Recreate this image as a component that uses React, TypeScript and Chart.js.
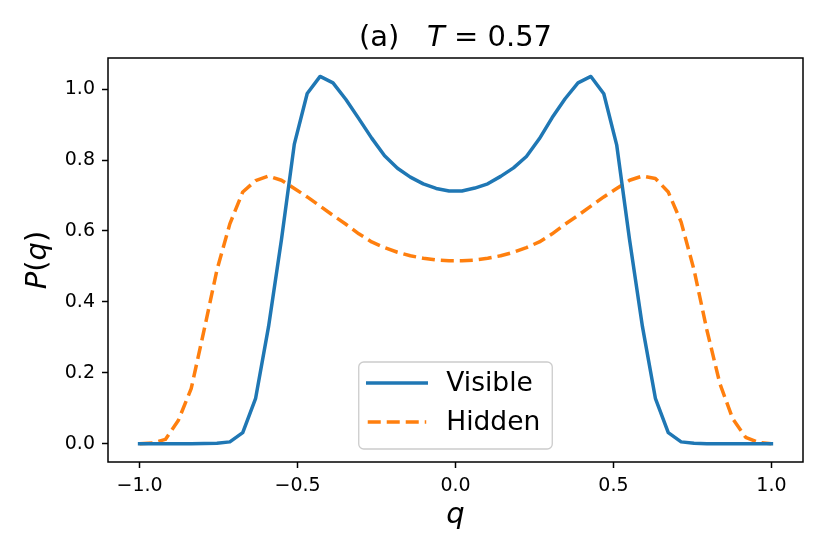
import { Chart, registerables } from "chart.js";
import { useEffect, useRef } from "react";

Chart.register(...registerables);

// q grid (50 points from -1 to 1)
const qValues = [
  -1.0, -0.9592, -0.9184, -0.8776, -0.8367, -0.7959, -0.7551, -0.7143, -0.6735, -0.6327,
  -0.5918, -0.551, -0.5102, -0.4694, -0.4286, -0.3878, -0.3469, -0.3061, -0.2653, -0.2245,
  -0.1837, -0.1429, -0.102, -0.0612, -0.0204, 0.0204, 0.0612, 0.102, 0.1429, 0.1837,
  0.2245, 0.2653, 0.3061, 0.3469, 0.3878, 0.4286, 0.4694, 0.5102, 0.551, 0.5918,
  0.6327, 0.6735, 0.7143, 0.7551, 0.7959, 0.8367, 0.8776, 0.9184, 0.9592, 1.0,
];

const visible = [
  0, 0, 0, 0, 0, 0.0005, 0.001, 0.005, 0.031, 0.128,
  0.33, 0.575, 0.845, 0.988, 1.036, 1.018, 0.971, 0.917, 0.862, 0.812,
  0.777, 0.752, 0.733, 0.72, 0.713, 0.713, 0.721, 0.733, 0.754, 0.778,
  0.81, 0.86, 0.92, 0.973, 1.018, 1.036, 0.987, 0.843, 0.575, 0.33,
  0.128, 0.031, 0.005, 0.001, 0, 0, 0, 0, 0, 0,
];

const hidden = [
  0, 0.002, 0.012, 0.065, 0.155, 0.32, 0.49, 0.62, 0.71, 0.742,
  0.755, 0.743, 0.72, 0.696, 0.67, 0.644, 0.619, 0.592, 0.569, 0.553,
  0.54, 0.53, 0.523, 0.518, 0.516, 0.516, 0.518, 0.523, 0.53, 0.54,
  0.553, 0.569, 0.592, 0.619, 0.644, 0.67, 0.696, 0.72, 0.743, 0.755,
  0.748, 0.71, 0.625, 0.49, 0.32, 0.17, 0.07, 0.018, 0.003, 0,
];

const seriesNames = ["Visible", "Hidden"];
const xTicks = [-1.0, -0.5, 0.0, 0.5, 1.0];
const yTicks = [0.0, 0.2, 0.4, 0.6, 0.8, 1.0];

const BLUE = "#1f77b4";
const ORANGE = "#ff7f0e";
const FONT = "'DejaVu Sans', sans-serif";
const DASH = [13, 6];
const LW = 3.5;

type Run = { text: string; italic?: boolean };

const runWidth = (ctx: CanvasRenderingContext2D, runs: Run[], size: number) => {
  let w = 0;
  for (const r of runs) {
    ctx.font = `${r.italic ? "italic " : ""}${size}px ${FONT}`;
    w += ctx.measureText(r.text).width;
  }
  return w;
};

const drawRuns = (ctx: CanvasRenderingContext2D, runs: Run[], size: number, cx: number, y: number) => {
  let x = cx - runWidth(ctx, runs, size) / 2;
  ctx.textAlign = "left";
  ctx.textBaseline = "alphabetic";
  for (const r of runs) {
    ctx.font = `${r.italic ? "italic " : ""}${size}px ${FONT}`;
    ctx.fillText(r.text, x, y);
    x += ctx.measureText(r.text).width;
  }
};

const fmt = (v: number) => (v < 0 ? "\u2212" + Math.abs(v).toFixed(1) : v.toFixed(1));

const decorations = {
  id: "decorations",
  afterDraw(chart: any) {
    const { ctx, chartArea: a } = chart;
    const cx = (a.left + a.right) / 2;
    const cy = (a.top + a.bottom) / 2;
    ctx.save();
    ctx.fillStyle = "#000";

    // axes frame
    ctx.strokeStyle = "#000";
    ctx.lineWidth = 1.5;
    ctx.strokeRect(a.left, a.top, a.right - a.left, a.bottom - a.top);

    // title
    drawRuns(ctx, [{ text: "(a)   " }, { text: "T", italic: true }, { text: " = 0.57" }], 29, cx, 45.5);

    // x label
    drawRuns(ctx, [{ text: "q", italic: true }], 29, cx, 523);

    // y label
    ctx.save();
    ctx.translate(46, cy);
    ctx.rotate(-Math.PI / 2);
    drawRuns(ctx, [{ text: "P", italic: true }, { text: "(" }, { text: "q", italic: true }, { text: ")" }], 29, 0, 0);
    ctx.restore();

    // legend
    const size = 26.5;
    ctx.font = `${size}px ${FONT}`;
    const textW = Math.max(...seriesNames.map((n) => ctx.measureText(n).width));
    const w = 87.5 + textW + 12;
    const h = 87;
    const left = cx - w / 2;
    const top = a.bottom - 13 - h;
    ctx.beginPath();
    ctx.roundRect(left, top, w, h, 5);
    ctx.fillStyle = "rgba(255,255,255,0.8)";
    ctx.fill();
    ctx.strokeStyle = "#cccccc";
    ctx.lineWidth = 1.3;
    ctx.stroke();

    const colors = [BLUE, ORANGE];
    seriesNames.forEach((name, i) => {
      const ry = top + 21 + i * 39;
      ctx.beginPath();
      ctx.strokeStyle = colors[i];
      ctx.lineWidth = LW;
      ctx.lineCap = i === 0 ? "square" : "butt";
      ctx.setLineDash(i === 0 ? [] : DASH);
      ctx.moveTo(left + 9, ry);
      ctx.lineTo(left + 67.5, ry);
      ctx.stroke();
      ctx.setLineDash([]);
      ctx.fillStyle = "#000";
      ctx.font = `${size}px ${FONT}`;
      ctx.textAlign = "left";
      ctx.textBaseline = "middle";
      ctx.fillText(name, left + 87.5, ry + 1);
    });
    ctx.restore();
  },
};

const App: React.FC = () => {
  const chartRef = useRef<HTMLCanvasElement | null>(null);

  useEffect(() => {
    document.body.style.margin = "0";
    if (!chartRef.current) return;
    const ctx = chartRef.current.getContext("2d");
    if (!ctx) return;

    const tickFont = { family: FONT, size: 19 };
    const axisGrid = {
      display: true,
      drawOnChartArea: false,
      drawTicks: true,
      tickLength: 6,
      tickColor: "#000",
      tickWidth: 1.5,
    };

    const myChart = new Chart(ctx, {
      type: "line",
      data: {
        datasets: [
          {
            label: seriesNames[0],
            data: qValues.map((q, i) => ({ x: q, y: visible[i] })),
            borderColor: BLUE,
            borderWidth: LW,
            pointRadius: 0,
            borderJoinStyle: "round",
            borderCapStyle: "square",
            fill: false,
          },
          {
            label: seriesNames[1],
            data: qValues.map((q, i) => ({ x: q, y: hidden[i] })),
            borderColor: ORANGE,
            borderWidth: LW,
            borderDash: DASH,
            pointRadius: 0,
            borderJoinStyle: "round",
            borderCapStyle: "butt",
            fill: false,
          },
        ],
      },
      options: {
        responsive: false,
        animation: false,
        devicePixelRatio: 1,
        layout: { padding: { left: 8, top: 58, right: 27, bottom: 42 } },
        scales: {
          x: {
            type: "linear",
            min: -1.1,
            max: 1.1,
            grid: axisGrid,
            border: { display: false },
            afterBuildTicks: (scale: any) => {
              scale.ticks = xTicks.map((v) => ({ value: v }));
            },
            afterFit: (scale: any) => {
              scale.height = 50;
            },
            ticks: {
              font: tickFont,
              color: "#000",
              padding: 7,
              maxRotation: 0,
              callback: (v: any) => fmt(Number(v)),
            },
          },
          y: {
            type: "linear",
            min: -0.0518,
            max: 1.088,
            grid: axisGrid,
            border: { display: false },
            afterBuildTicks: (scale: any) => {
              scale.ticks = yTicks.map((v) => ({ value: v }));
            },
            afterFit: (scale: any) => {
              scale.width = 100;
            },
            ticks: {
              font: tickFont,
              color: "#000",
              padding: 7,
              callback: (v: any) => fmt(Number(v)),
            },
          },
        },
        plugins: {
          legend: { display: false },
          title: { display: false },
          tooltip: { enabled: false },
        },
      },
      plugins: [decorations],
    } as any);
    return () => myChart.destroy();
  }, []);

  return (
    <div style={{ width: "830px", height: "554px", background: "#fff" }}>
      <canvas ref={chartRef} width="830" height="554" />
    </div>
  );
};

export default App;
